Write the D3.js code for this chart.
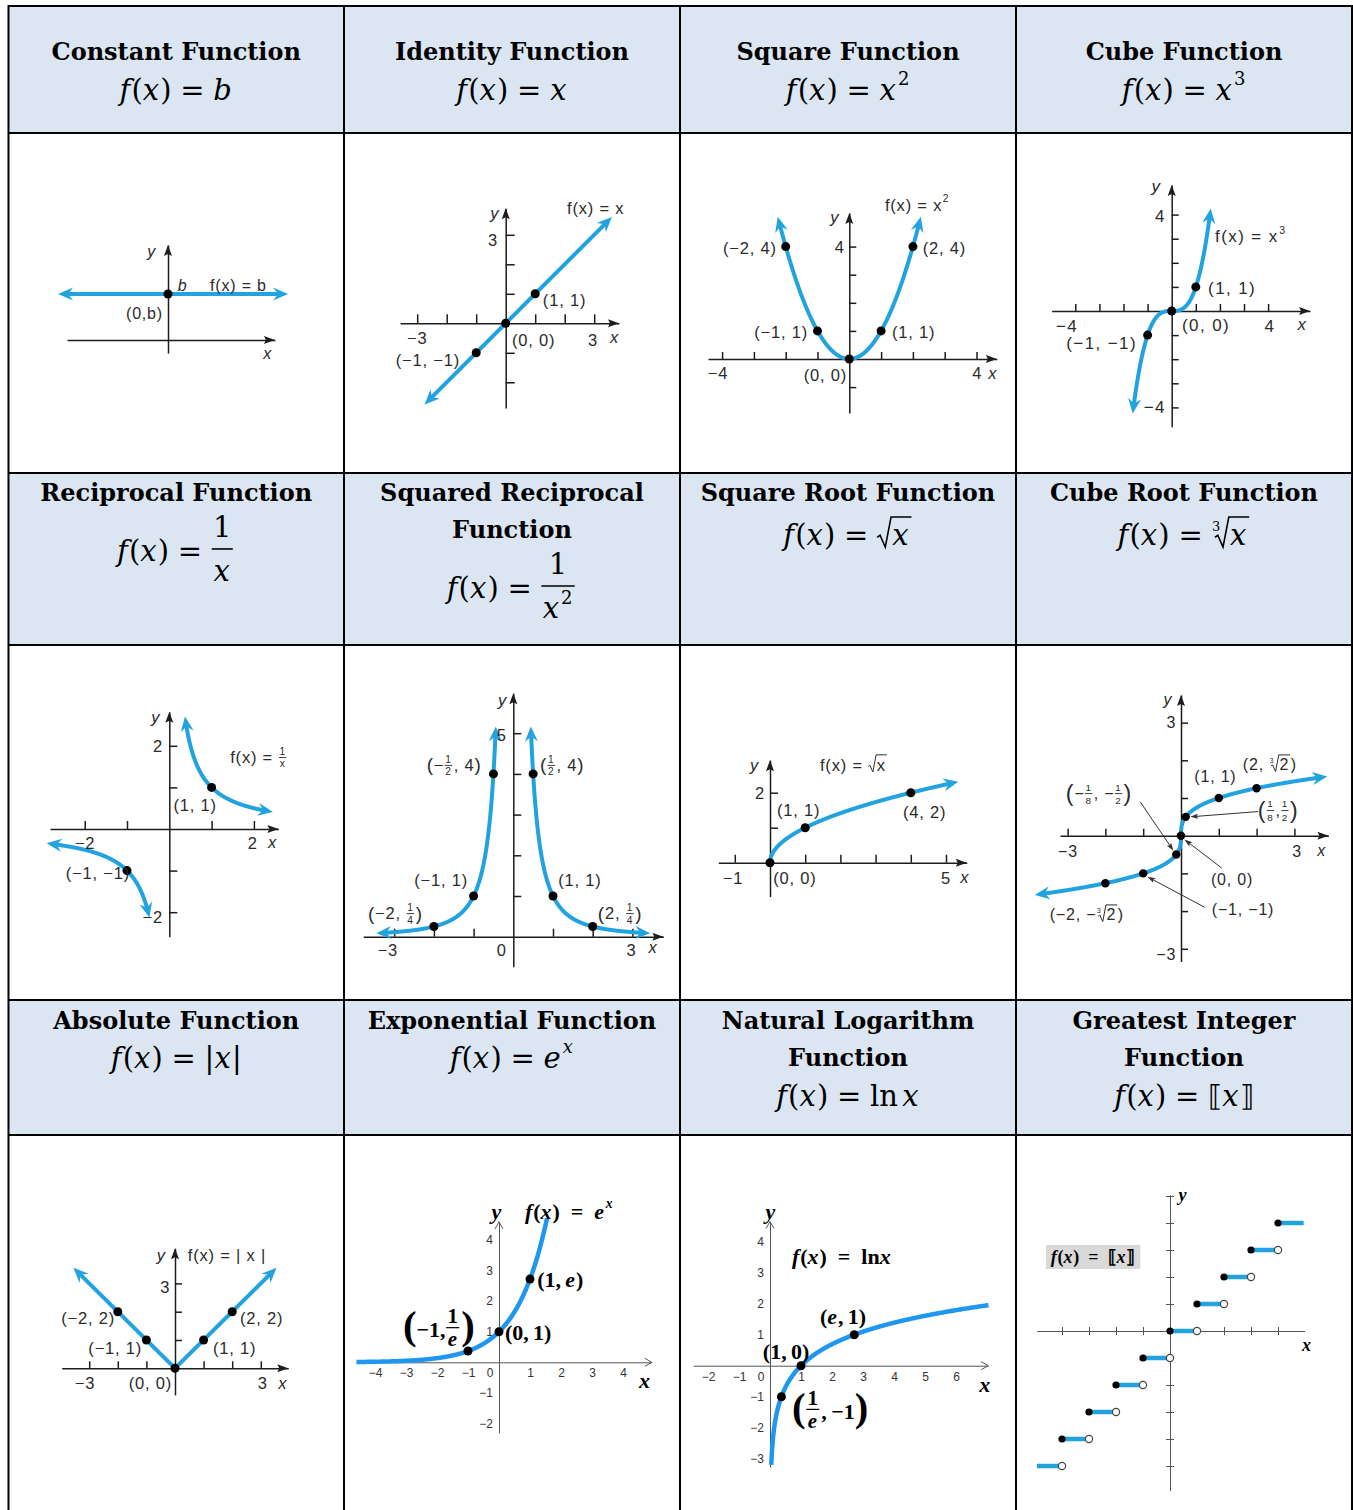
<!DOCTYPE html>
<html>
<head>
<meta charset="utf-8">
<title>Parent Functions</title>
<script src="https://cdn.jsdelivr.net/npm/d3@7"></script>
<style>
  html, body { margin: 0; padding: 0; background: #fff; }
  svg { display: block; }
</style>
</head>
<body>
<svg id="chart" width="1353" height="1510"></svg>
<script>
// ---------- token helpers for math-style text ----------
const it = s => ({ i: s });
const sup = (...t) => ({ sup: t });
const frac = (n, d) => ({ frac: [n, d] });
const root = (c, idx) => ({ sqrt: c, idx });
const big = s => ({ big: s });
const gap = em => ({ sp: em });

// ---------- table headings ----------
const titles = [
  ["Constant Function"], ["Identity Function"], ["Square Function"], ["Cube Function"],
  ["Reciprocal Function"], ["Squared Reciprocal", "Function"], ["Square Root Function"], ["Cube Root Function"],
  ["Absolute Function"], ["Exponential Function"], ["Natural Logarithm", "Function"], ["Greatest Integer", "Function"]
];
const FX = [it("f"), "(", it("x"), ")", gap(0.3), "=", gap(0.3)];
const formulas = [
  [...FX, it("b")],
  [...FX, it("x")],
  [...FX, it("x"), sup("2")],
  [...FX, it("x"), sup("3")],
  [...FX, frac(["1"], [it("x")])],
  [...FX, frac(["1"], [it("x"), sup("2")])],
  [...FX, root([it("x")])],
  [...FX, root([it("x")], "3")],
  [...FX, "|", it("x"), "|"],
  [...FX, it("e"), sup(it("x"))],
  [...FX, "ln", gap(0.15), it("x")],
  [...FX, "\u27E6", it("x"), "\u27E7"]
];

// ---------- key points of each graph ----------
const constantValue = 2;
const constantPoints = [[0, constantValue]];
const identityPoints = [[-1, -1], [0, 0], [1, 1]];
const squarePoints = [[-2, 4], [-1, 1], [0, 0], [1, 1], [2, 4]];
const cubePoints = [[-1, -1], [0, 0], [1, 1]];
const reciprocalPoints = [[-1, -1], [1, 1]];
const sqReciprocalPoints = [[-2, 0.25], [-1, 1], [-0.5, 4], [0.5, 4], [1, 1], [2, 0.25]];
const sqrtPoints = [[0, 0], [1, 1], [4, 2]];
const cbrtPoints = [[-2, -Math.cbrt(2)], [-1, -1], [-0.125, -0.5], [0, 0], [0.125, 0.5], [1, 1], [2, Math.cbrt(2)]];
const absPoints = [[-2, 2], [-1, 1], [0, 0], [1, 1], [2, 2]];
const expPoints = [[-1, 1 / Math.E], [0, 1], [1, Math.E]];
const lnPoints = [[1 / Math.E, -1], [1, 0], [Math.E, 1]];
const stepLevels = [-5, -4, -3, -2, -1, 0, 1, 2, 3, 4];

// ---------- tick values ----------
const identityXTicks = [-3, -2, -1, 1, 2, 3], identityYTicks = [-2, -1, 1, 2, 3];
const squareXTicks = [-4, -3, -2, -1, 1, 2, 3, 4], squareYTicks = [-1, 1, 2, 3, 4];
const cubeXTicks = [-4, -3, -2, -1, 1, 2, 3, 4], cubeYTicks = [-4, -3, -2, -1, 1, 2, 3, 4];
const reciprocalXTicks = [-2, -1, 1, 2], reciprocalYTicks = [-2, -1, 1, 2];
const sqReciprocalXTicks = [-3, -2, -1, 1, 2, 3], sqReciprocalYTicks = [1, 2, 3, 4, 5];
const sqrtXTicks = [-1, 1, 2, 3, 4, 5], sqrtYTicks = [1, 2];
const cbrtXTicks = [-3, -2, -1, 1, 2, 3], cbrtYTicks = [-3, -2, -1, 1, 2, 3];
const absXTicks = [-3, -2, -1, 1, 2, 3], absYTicks = [1, 2, 3];
const expXTicks = [-4, -3, -2, -1, 1, 2, 3, 4], expYTicks = [-2, -1, 1, 2, 3, 4];
const lnXTicks = [-2, -1, 1, 2, 3, 4, 5, 6], lnYTicks = [-3, -2, -1, 1, 2, 3, 4];
const stepXTicks = [-4, -3, -2, -1, 1, 2, 3, 4], stepYTicks = [-5, -4, -3, -2, -1, 1, 2, 3, 4, 5];

// ---------- annotations (positions in graph units) ----------
const constantLabels = [
  { tk: "y", x: -0.70, y: 3.83, a: "middle", it: true },
  { tk: "b", x: 0.65, y: 2.39, a: "middle", it: true },
  { tk: "f(x) = b", x: 1.83, y: 2.39, a: "start" },
  { tk: "(0,b)", x: -0.22, y: 1.17, a: "end" },
  { tk: "x", x: 4.35, y: -0.57, a: "middle", it: true }
];
const identityLabels = [
  { tk: "y", x: -0.36, y: 3.74, a: "middle", it: true },
  { tk: "3", x: -0.26, y: 2.82, a: "end" },
  { tk: "f(x) = x", x: 2.08, y: 3.91, a: "start" },
  { tk: "(1, 1)", x: 1.26, y: 0.79, a: "start" },
  { tk: "−3", x: -3.0, y: -0.5, a: "middle" },
  { tk: "(0, 0)", x: 0.21, y: -0.57, a: "start" },
  { tk: "3", x: 2.96, y: -0.57, a: "middle" },
  { tk: "x", x: 3.7, y: -0.46, a: "middle", it: true },
  { tk: "(−1, −1)", x: -1.55, y: -1.24, a: "end" }
];
const squareLabels = [
  { tk: "y", x: -0.45, y: 5.05, a: "middle", it: true },
  { tk: "4", x: -0.14, y: 3.99, a: "end" },
  { tk: ["f(x) = x", sup("2")], x: 1.12, y: 5.48, a: "start" },
  { tk: "(−2, 4)", x: -2.28, y: 3.95, a: "end" },
  { tk: "(2, 4)", x: 2.31, y: 3.95, a: "start" },
  { tk: "(−1, 1)", x: -1.3, y: 0.96, a: "end" },
  { tk: "(1, 1)", x: 1.34, y: 0.96, a: "start" },
  { tk: "−4", x: -4.13, y: -0.5, a: "middle" },
  { tk: "(0, 0)", x: -0.07, y: -0.57, a: "end" },
  { tk: "4", x: 4.02, y: -0.5, a: "middle" },
  { tk: "x", x: 4.52, y: -0.5, a: "middle", it: true }
];
const cubeLabels = [
  { tk: "y", x: -0.62, y: 5.16, a: "middle", it: true },
  { tk: "4", x: -0.24, y: 3.91, a: "end" },
  { tk: ["f(x) = x", sup("3")], x: 1.8, y: 3.08, a: "start" },
  { tk: "(1, 1)", x: 1.51, y: 0.95, a: "start" },
  { tk: "−4", x: -4.34, y: -0.66, a: "middle" },
  { tk: "(0, 0)", x: 0.43, y: -0.62, a: "start" },
  { tk: "4", x: 4.08, y: -0.66, a: "middle" },
  { tk: "x", x: 5.44, y: -0.58, a: "middle", it: true },
  { tk: "(−1, −1)", x: -1.44, y: -1.33, a: "end" },
  { tk: "−4", x: -0.24, y: -4.02, a: "end" }
];
const reciprocalLabels = [
  { tk: "y", x: -0.31, y: 2.69, a: "middle", it: true },
  { tk: "2", x: -0.15, y: 2.0, a: "end" },
  { tk: ["f(x) = ", frac(["1"], ["x"])], x: 1.44, y: 1.73, a: "start" },
  { tk: "(1, 1)", x: 0.61, y: 0.58, a: "middle" },
  { tk: "−2", x: -1.99, y: -0.34, a: "middle" },
  { tk: "2", x: 1.97, y: -0.34, a: "middle" },
  { tk: "x", x: 2.45, y: -0.31, a: "middle", it: true },
  { tk: "(−1, −1)", x: -0.93, y: -1.06, a: "end" },
  { tk: "−2", x: -0.15, y: -2.12, a: "end" }
];
const sqReciprocalLabels = [
  { tk: "y", x: -0.26, y: 5.81, a: "middle", it: true },
  { tk: "5", x: -0.29, y: 4.96, a: "middle" },
  { tk: [big("("), "−", frac(["1"], ["2"]), ", 4", big(")")], x: -0.8, y: 4.22, a: "end" },
  { tk: [big("("), frac(["1"], ["2"]), ", 4", big(")")], x: 0.67, y: 4.22, a: "start" },
  { tk: "(−1, 1)", x: -1.14, y: 1.39, a: "end" },
  { tk: "(1, 1)", x: 1.13, y: 1.39, a: "start" },
  { tk: [big("("), "−2, ", frac(["1"], ["4"]), big(")")], x: -2.28, y: 0.58, a: "end" },
  { tk: [big("("), "2, ", frac(["1"], ["4"]), big(")")], x: 2.13, y: 0.58, a: "start" },
  { tk: "−3", x: -3.16, y: -0.33, a: "middle" },
  { tk: "0", x: -0.29, y: -0.33, a: "middle" },
  { tk: "3", x: 2.98, y: -0.33, a: "middle" },
  { tk: "x", x: 3.53, y: -0.25, a: "middle", it: true }
];
const sqrtLabels = [
  { tk: "y", x: -0.43, y: 2.79, a: "middle", it: true },
  { tk: ["f(x) = ", root(["x"])], x: 1.42, y: 2.79, a: "start" },
  { tk: "2", x: -0.14, y: 1.99, a: "end" },
  { tk: "(1, 1)", x: 0.2, y: 1.51, a: "start" },
  { tk: "(4, 2)", x: 3.78, y: 1.45, a: "start" },
  { tk: "−1", x: -1.05, y: -0.43, a: "middle" },
  { tk: "(0, 0)", x: 0.09, y: -0.43, a: "start" },
  { tk: "5", x: 5, y: -0.43, a: "middle" },
  { tk: "x", x: 5.54, y: -0.41, a: "middle", it: true }
];
const cbrtLabels = [
  { tk: "y", x: -0.34, y: 3.6, a: "middle", it: true },
  { tk: "3", x: -0.13, y: 2.99, a: "end" },
  { tk: "(1, 1)", x: 0.91, y: 1.56, a: "middle" },
  { tk: ["(2, ", root(["2"], "3"), ")"], x: 2.35, y: 1.88, a: "middle" },
  { tk: [big("("), "−", frac(["1"], ["8"]), ", −", frac(["1"], ["2"]), big(")")], x: -2.17, y: 1.13, a: "middle" },
  { tk: [big("("), frac(["1"], ["8"]), ",", frac(["1"], ["2"]), big(")")], x: 2.57, y: 0.68, a: "middle" },
  { tk: "−3", x: -2.99, y: -0.43, a: "middle" },
  { tk: "3", x: 3.07, y: -0.43, a: "middle" },
  { tk: "x", x: 3.73, y: -0.38, a: "middle", it: true },
  { tk: "(0, 0)", x: 1.35, y: -1.17, a: "middle" },
  { tk: "(−1, −1)", x: 1.64, y: -1.96, a: "middle" },
  { tk: ["(−2, −", root(["2"], "3"), ")"], x: -2.49, y: -2.1, a: "middle" },
  { tk: "−3", x: -0.13, y: -3.16, a: "end" }
];
const cbrtLeaders = [
  [[-1.08, 0.9], [-0.2, -0.4]],
  [[2.04, 0.64], [0.24, 0.5]],
  [[1.08, -0.86], [0.09, -0.1]],
  [[0.63, -1.9], [-0.89, -1.09]]
];
const absLabels = [
  { tk: "y", x: -0.47, y: 4.0, a: "middle", it: true },
  { tk: "f(x) = | x |", x: 0.45, y: 4.0, a: "start" },
  { tk: "3", x: -0.17, y: 2.88, a: "end" },
  { tk: "(−2, 2)", x: -2.1, y: 1.78, a: "end" },
  { tk: "(2, 2)", x: 2.27, y: 1.78, a: "start" },
  { tk: "(−1, 1)", x: -1.15, y: 0.72, a: "end" },
  { tk: "(1, 1)", x: 1.33, y: 0.72, a: "start" },
  { tk: "−3", x: -3.15, y: -0.52, a: "middle" },
  { tk: "(0, 0)", x: -0.1, y: -0.52, a: "end" },
  { tk: "3", x: 3.07, y: -0.52, a: "middle" },
  { tk: "x", x: 3.78, y: -0.52, a: "middle", it: true }
];
const expLabels = [
  { tk: "y", x: -0.07, y: 4.92, a: "middle", it: true },
  { tk: [it("f"), "(", it("x"), ")\u2002=\u2002", it("e"), sup(it("x"))], x: 0.84, y: 4.92, a: "start" },
  { tk: ["(1,\u2009", it("e"), ")"], x: 1.23, y: 2.69, a: "start" },
  { tk: "(0,\u20091)", x: 0.19, y: 0.96, a: "start" },
  { tk: [big("("), "−1,", frac(["1"], [it("e")]), big(")")], x: -3.1, y: 1.06, a: "start" },
  { tk: "x", x: 4.71, y: -0.58, a: "middle", it: true }
];
const lnLabels = [
  { tk: "y", x: 0.03, y: 4.97, a: "middle", it: true },
  { tk: [it("f"), "(", it("x"), ")\u2002=\u2002ln", it("x")], x: 0.71, y: 3.52, a: "start" },
  { tk: ["(", it("e"), ",\u20091)"], x: 1.61, y: 1.58, a: "start" },
  { tk: "(1,\u20090)", x: -0.23, y: 0.45, a: "start" },
  { tk: [big("("), frac(["1"], [it("e")]), ",\u2009−1", big(")")], x: 0.71, y: -1.48, a: "start" },
  { tk: "x", x: 6.94, y: -0.62, a: "middle", it: true }
];
const stepLabels = [
  { tk: "y", x: 0.48, y: 5.04, a: "middle", it: true },
  { tk: "x", x: 5.07, y: -0.52, a: "middle", it: true }
];
const stepFormula = { tk: [it("f"), "(", it("x"), ")\u2002=\u2002\u27E6", it("x"), "\u27E7"], x: -2.85, y: 2.74, a: "middle" };

// ---------- layout and styles ----------
const colEdges = [8.5, 344, 680, 1016, 1352];
const rowEdges = [6, 133, 473, 645, 1000, 1135, 1512];
const titleBase = [60, 501, 1029];
const formulaY = [90, 90, 90, 90, 551, 588, 535, 535, 1058, 1058, 1096, 1096];

const HEADER_FILL = "#dce6f2", BOOK_BLUE = "#22a3e0", GEO_BLUE = "#1f97f0", AXIS = "#1d1d1d";
const headText = { fs: 29, family: "DejaVu Serif", fill: "#000", fracScale: 1, fracUp: 0.83, fracDn: 0.7, barY: -0.07, barPad: 0.15, parenScale: 1, parenDy: 0, supScale: 0.62, supUp: 0.38 };
const bookText = { fs: 16.5, family: "Liberation Sans", fill: "#2b2b2b", spacing: 0.8, fracScale: 0.62, fracUp: 0.36, fracDn: 0.42, barY: 0.03, barPad: 0.12, parenScale: 1.15, parenDy: 0, supScale: 0.62, supUp: 0.38 };
const geoText = { fs: 22, family: "Liberation Serif", weight: "bold", fill: "#000", fracScale: 0.95, fracUp: 0.62, fracDn: 0.42, barY: -0.1, barPad: 0.18, parenScale: 1.85, parenDy: -0.18, supScale: 0.62, supUp: 0.36 };

const svg = d3.select("#chart");

// ---------- text rendering ----------
function putText(parent, x, y, str, fs, o, italic) {
  const t = parent.append("text")
    .attr("x", x).attr("y", y)
    .attr("dominant-baseline", "central")
    .attr("font-family", o.family)
    .attr("font-size", fs)
    .attr("font-weight", o.weight || "normal")
    .attr("font-style", italic ? "italic" : "normal")
    .attr("letter-spacing", o.spacing || 0)
    .attr("fill", o.fill)
    .text(str.replace(/ /g, "\u00A0"));
  return t.node().getComputedTextLength();
}

function renderTokens(parent, tokens, o) {
  const fs = o.fs;
  let x = 0;
  tokens.forEach(tk => {
    if (typeof tk === "string") {
      x += putText(parent, x, 0, tk, fs, o, false);
    } else if (tk.sp !== undefined) {
      x += fs * tk.sp;
    } else if (tk.i !== undefined) {
      x += putText(parent, x, 0, tk.i, fs, o, true) + fs * 0.04;
    } else if (tk.big !== undefined) {
      x += putText(parent, x, fs * o.parenDy, tk.big, fs * o.parenScale, o, false);
    } else if (tk.sup) {
      const g = parent.append("g");
      const w = renderTokens(g, tk.sup, { ...o, fs: fs * o.supScale });
      g.attr("transform", `translate(${x + fs * 0.03},${-fs * o.supUp})`);
      x += w + fs * 0.06;
    } else if (tk.frac) {
      const fo = { ...o, fs: fs * o.fracScale };
      const gn = parent.append("g"), gd = parent.append("g");
      const wn = renderTokens(gn, tk.frac[0], fo);
      const wd = renderTokens(gd, tk.frac[1], fo);
      const w = Math.max(wn, wd) + fs * o.barPad;
      gn.attr("transform", `translate(${x + (w - wn) / 2},${-fs * o.fracUp})`);
      gd.attr("transform", `translate(${x + (w - wd) / 2},${fs * o.fracDn})`);
      parent.append("line")
        .attr("x1", x + fs * 0.03).attr("x2", x + w - fs * 0.03)
        .attr("y1", fs * o.barY).attr("y2", fs * o.barY)
        .attr("stroke", o.fill).attr("stroke-width", Math.max(0.9, fs * 0.055));
      x += w + fs * 0.06;
    } else if (tk.sqrt) {
      let x0 = x;
      if (tk.idx) {
        putText(parent, x0 + fs * 0.02, -fs * 0.3, tk.idx, fs * 0.45, o, false);
        x0 += fs * 0.12;
      }
      const gc = parent.append("g");
      const wc = renderTokens(gc, tk.sqrt, o);
      const cx = x0 + fs * 0.52;
      gc.attr("transform", `translate(${cx},0)`);
      const top = -fs * 0.62, bot = fs * 0.42;
      parent.append("path")
        .attr("d", `M${x0},${fs * 0.08}L${x0 + fs * 0.1},${fs * 0.01}L${x0 + fs * 0.28},${bot}L${x0 + fs * 0.48},${top}H${cx + wc + fs * 0.06}`)
        .attr("fill", "none").attr("stroke", o.fill)
        .attr("stroke-width", Math.max(1, fs * 0.055));
      x = cx + wc + fs * 0.1;
    }
  });
  return x;
}

function placeLabel(g, px, py, l, o) {
  const lg = g.append("g");
  let toks = typeof l.tk === "string" ? [l.tk] : l.tk;
  if (l.it) toks = toks.map(t => typeof t === "string" ? it(t) : t);
  const w = renderTokens(lg, toks, o);
  const off = l.a === "end" ? w : l.a === "middle" ? w / 2 : 0;
  lg.attr("transform", `translate(${px - off},${py})`);
  return { lg, w };
}

// ---------- marks ----------
function arrowHead(g, tip, ang, len, half, notch, color) {
  const c = Math.cos(ang), s = Math.sin(ang);
  const P = (u, v) => [tip[0] - u * c - v * s, tip[1] - u * s + v * c];
  const pts = [P(0, 0), P(len, half), P(len - notch, 0), P(len, -half)];
  g.append("path").attr("d", "M" + pts.map(p => p.join(",")).join("L") + "Z").attr("fill", color);
}

function drawCurve(g, sx, sy, cv, color, width, head) {
  const n = 900;
  const pts = d3.range(n + 1).map(i => {
    const [x, y] = cv.f(cv.t[0] + (cv.t[1] - cv.t[0]) * i / n);
    return [sx(x), sy(y)];
  });
  const dist = (a, b) => Math.hypot(a[0] - b[0], a[1] - b[1]);
  let from = 0, to = pts.length - 1;
  const heads = [];
  [[0, 1], [pts.length - 1, -1]].forEach(([k, step], side) => {
    if (!cv.arrows || !cv.arrows[side]) return;
    const tip = pts[k];
    let j = k;
    while (j + step >= 0 && j + step < pts.length && dist(pts[j], tip) < 9) j += step;
    heads.push([tip, Math.atan2(tip[1] - pts[j][1], tip[0] - pts[j][0])]);
    let m = k;
    while (dist(pts[m], tip) < head.len * 0.55) m += step;
    if (side === 0) from = m; else to = m;
  });
  g.append("path").attr("d", d3.line()(pts.slice(from, to + 1)))
    .attr("fill", "none").attr("stroke", color).attr("stroke-width", width);
  heads.forEach(([tip, ang]) => arrowHead(g, tip, ang, head.len, head.half, head.notch, color));
}

function scalesFor(p) {
  const sx = d3.scaleLinear().domain([0, 1]).range([p.origin[0], p.origin[0] + p.unit[0]]);
  const sy = d3.scaleLinear().domain([0, 1]).range([p.origin[1], p.origin[1] - p.unit[1]]);
  return { sx, sy };
}

// ---------- textbook-style graphs ----------
function drawBookPanel(p) {
  const g = svg.append("g");
  const { sx, sy } = scalesFor(p);
  const ax = d3.scaleLinear().domain(p.xExt).range(p.xExt.map(sx));
  const ay = d3.scaleLinear().domain(p.yExt).range(p.yExt.map(sy));
  g.append("g").attr("transform", `translate(0,${sy(0)})`)
    .call(d3.axisTop(ax).tickValues(p.xTicks).tickSize(p.tick).tickSizeOuter(0).tickFormat(""));
  g.append("g").attr("transform", `translate(${sx(0)},0)`)
    .call(d3.axisRight(ay).tickValues(p.yTicks).tickSize(p.tick).tickSizeOuter(0).tickFormat(""));
  g.selectAll(".domain, .tick line").attr("stroke", AXIS).attr("stroke-width", 1.5);
  arrowHead(g, [sx(p.xExt[1]), sy(0)], 0, 11, 4, 2, AXIS);
  arrowHead(g, [sx(0), sy(p.yExt[1])], -Math.PI / 2, 11, 4, 2, AXIS);
  p.curves.forEach(cv => drawCurve(g, sx, sy, cv, BOOK_BLUE, 4, { len: 15, half: 6.5, notch: 5 }));
  g.selectAll("circle.pt").data(p.pts).join("circle").attr("class", "pt")
    .attr("cx", d => sx(d[0])).attr("cy", d => sy(d[1])).attr("r", p.r || 4.5).attr("fill", "#000");
  const o = { ...bookText, ...(p.text || {}) };
  p.labels.forEach(l => placeLabel(g, sx(l.x), sy(l.y), l, o));
  return { g, sx, sy };
}

const bookPanels = [
  { origin: [168, 340], unit: [23, 23], xExt: [-4.39, 4.65], yExt: [-0.57, 4.13], xTicks: [], yTicks: [], tick: 0,
    curves: [{ f: t => [t, constantValue], t: [-4.78, 5.22], arrows: [1, 1] }], pts: constantPoints, labels: constantLabels, text: { fs: 16 } },
  { origin: [505.7, 323.3], unit: [29.5, 29.5], xExt: [-3.58, 3.84], yExt: [-2.87, 3.9], xTicks: identityXTicks, yTicks: identityYTicks, tick: 9,
    curves: [{ f: t => [t, t], t: [-2.75, 3.6], arrows: [1, 1] }], pts: identityPoints, labels: identityLabels },
  { origin: [849.3, 359], unit: [31.8, 28.1], xExt: [-4.44, 4.64], yExt: [-1.92, 5.2], xTicks: squareXTicks, yTicks: squareYTicks, tick: 7,
    curves: [{ f: t => [t, t * t], t: [-2.25, 2.25], arrows: [1, 1] }], pts: squarePoints, labels: squareLabels },
  { origin: [1171.7, 311], unit: [24.1, 24.1], xExt: [-4.98, 5.74], yExt: [-4.8, 5.23], xTicks: cubeXTicks, yTicks: cubeYTicks, tick: 7,
    curves: [{ f: t => [t, t * t * t], t: [-1.62, 1.62], arrows: [1, 1] }], pts: cubePoints, labels: cubeLabels, text: { fs: 17, spacing: 1.4 } },
  { origin: [169.3, 829], unit: [42.3, 41.6], xExt: [-2.82, 2.58], yExt: [-2.59, 2.82], xTicks: reciprocalXTicks, yTicks: reciprocalYTicks, tick: 8,
    curves: [{ f: t => [t, 1 / t], t: [-2.9, -0.47], arrows: [1, 1] }, { f: t => [t, 1 / t], t: [0.37, 2.45], arrows: [1, 1] }],
    pts: reciprocalPoints, labels: reciprocalLabels },
  { origin: [513.3, 936.7], unit: [39.7, 40.7], xExt: [-3.78, 3.78], yExt: [-0.74, 5.98], xTicks: sqReciprocalXTicks, yTicks: sqReciprocalYTicks, tick: 8,
    curves: [{ f: t => [t, 1 / (t * t)], t: [-3.45, -0.44], arrows: [1, 1] }, { f: t => [t, 1 / (t * t)], t: [0.44, 3.45], arrows: [1, 1] }],
    pts: sqReciprocalPoints, labels: sqReciprocalLabels },
  { origin: [770, 862.7], unit: [35.2, 35], xExt: [-1.47, 5.59], yExt: [-0.97, 2.93], xTicks: sqrtXTicks, yTicks: sqrtYTicks, tick: 8,
    curves: [{ f: t => [t * t, t], t: [0, 2.313], arrows: [0, 1] }], pts: sqrtPoints, labels: sqrtLabels },
  { origin: [1181, 835.7], unit: [37.8, 37.7], xExt: [-3.2, 3.9], yExt: [-3.34, 3.73], xTicks: cbrtXTicks, yTicks: cbrtYTicks, tick: 7,
    curves: [{ f: t => [t * t * t, t], t: [-1.57, 1.57], arrows: [1, 1] }], pts: cbrtPoints, labels: cbrtLabels, r: 4.2,
    text: { fs: 16, parenScale: 1.45, fracUp: 0.38, fracDn: 0.44 } },
  { origin: [175, 1368.3], unit: [28.6, 28.3], xExt: [-3.96, 3.96], yExt: [-0.94, 4.24], xTicks: absXTicks, yTicks: absYTicks, tick: 7,
    curves: [{ f: t => [t, Math.abs(t)], t: [-3.55, 3.55], arrows: [1, 1] }], pts: absPoints, labels: absLabels }
];
const drawn = bookPanels.map(drawBookPanel);

// leader arrows of the cube root graph
{
  const { g, sx, sy } = drawn[7];
  cbrtLeaders.forEach(([a, b]) => {
    const p0 = [sx(a[0]), sy(a[1])], p1 = [sx(b[0]), sy(b[1])];
    const ang = Math.atan2(p1[1] - p0[1], p1[0] - p0[0]);
    g.append("line").attr("x1", p0[0]).attr("y1", p0[1])
      .attr("x2", p1[0] - 5 * Math.cos(ang)).attr("y2", p1[1] - 5 * Math.sin(ang))
      .attr("stroke", "#333").attr("stroke-width", 1);
    arrowHead(g, p1, ang, 8, 2.6, 1.5, "#333");
  });
}

// ---------- GeoGebra-style graphs ----------
const intFormat = d3.format("d");
function drawGeoPanel(p) {
  const g = svg.append("g");
  const { sx, sy } = scalesFor(p);
  const ax = d3.scaleLinear().domain(p.xExt).range(p.xExt.map(sx));
  const ay = d3.scaleLinear().domain(p.yExt).range(p.yExt.map(sy));
  const gx = g.append("g").attr("transform", `translate(0,${sy(0)})`)
    .call(d3.axisBottom(ax).tickValues(p.xTicks).tickFormat(intFormat).tickSize(0).tickPadding(6.5).tickSizeOuter(0));
  const gy = g.append("g").attr("transform", `translate(${sx(0)},0)`)
    .call(d3.axisLeft(ay).tickValues(p.yTicks).tickFormat(intFormat).tickSize(0).tickPadding(6).tickSizeOuter(0));
  [gx, gy].forEach(a => {
    a.select(".domain").attr("stroke", "#555").attr("stroke-width", 1);
    a.selectAll("text").attr("font-family", "Liberation Sans").attr("font-size", 12).attr("fill", "#333");
  });
  g.append("text").attr("x", sx(0) - 9).attr("y", sy(0) + 11)
    .attr("dominant-baseline", "central").attr("text-anchor", "middle")
    .attr("font-family", "Liberation Sans").attr("font-size", 12).attr("fill", "#333").text("0");
  const xe = sx(p.xExt[1]), ye = sy(p.yExt[1]);
  g.append("path").attr("d", `M${xe - 7},${sy(0) - 4}L${xe},${sy(0)}L${xe - 7},${sy(0) + 4}`)
    .attr("fill", "none").attr("stroke", "#555").attr("stroke-width", 1);
  g.append("path").attr("d", `M${sx(0) - 4},${ye + 7}L${sx(0)},${ye}L${sx(0) + 4},${ye + 7}`)
    .attr("fill", "none").attr("stroke", "#555").attr("stroke-width", 1);
  p.curves.forEach(cv => drawCurve(g, sx, sy, cv, GEO_BLUE, 4.5, null));
  g.selectAll("circle.pt").data(p.pts).join("circle").attr("class", "pt")
    .attr("cx", d => sx(d[0])).attr("cy", d => sy(d[1])).attr("r", 4.5).attr("fill", "#000");
  p.labels.forEach(l => placeLabel(g, sx(l.x), sy(l.y), l, geoText));
}

drawGeoPanel({ origin: [499, 1362.3], unit: [31, 30.6], xExt: [-4.59, 4.93], yExt: [-2.31, 4.59],
  xTicks: expXTicks, yTicks: expYTicks, curves: [{ f: t => [t, Math.exp(t)], t: [-4.6, 1.55] }], pts: expPoints, labels: expLabels });
drawGeoPanel({ origin: [770, 1365.7], unit: [31, 31], xExt: [-2.48, 7.04], yExt: [-3.26, 4.65],
  xTicks: lnXTicks, yTicks: lnYTicks, curves: [{ f: t => [Math.exp(t), t], t: [-3.2, 1.953] }], pts: lnPoints, labels: lnLabels });

// ---------- greatest integer (step) graph ----------
{
  const p = { origin: [1170, 1331], unit: [27, 27], xExt: [-4.93, 4.98], yExt: [-5.9, 5.04], stepEnd: 4.95 };
  const g = svg.append("g");
  const { sx, sy } = scalesFor(p);
  const ax = d3.scaleLinear().domain(p.xExt).range(p.xExt.map(sx));
  const ay = d3.scaleLinear().domain(p.yExt).range(p.yExt.map(sy));
  const xa = g.append("g").attr("transform", `translate(0,${sy(0)})`);
  xa.append("g").call(d3.axisBottom(ax).tickValues(stepXTicks).tickSize(4).tickSizeOuter(0).tickFormat(""));
  xa.append("g").call(d3.axisTop(ax).tickValues(stepXTicks).tickSize(4).tickSizeOuter(0).tickFormat(""));
  const ya = g.append("g").attr("transform", `translate(${sx(0)},0)`);
  ya.append("g").call(d3.axisLeft(ay).tickValues(stepYTicks).tickSize(4).tickSizeOuter(0).tickFormat(""));
  ya.append("g").call(d3.axisRight(ay).tickValues(stepYTicks).tickSize(4).tickSizeOuter(0).tickFormat(""));
  g.selectAll(".domain, .tick line").attr("stroke", "#555").attr("stroke-width", 1);

  stepLevels.forEach(n => {
    const x0 = Math.max(n, p.xExt[0]), x1 = Math.min(n + 1, p.stepEnd);
    g.append("line").attr("x1", sx(x0)).attr("x2", sx(x1)).attr("y1", sy(n)).attr("y2", sy(n))
      .attr("stroke", BOOK_BLUE).attr("stroke-width", 4.5);
    if (n >= p.xExt[0]) g.append("circle").attr("cx", sx(n)).attr("cy", sy(n)).attr("r", 3.6).attr("fill", "#000");
    if (n + 1 <= p.stepEnd) g.append("circle").attr("cx", sx(n + 1)).attr("cy", sy(n)).attr("r", 3.6)
      .attr("fill", "#fff").attr("stroke", "#444").attr("stroke-width", 1.2);
  });
  const so = { ...geoText, fs: 18 };
  stepLabels.forEach(l => placeLabel(g, sx(l.x), sy(l.y), l, so));
  const { lg, w } = placeLabel(g, sx(stepFormula.x), sy(stepFormula.y), stepFormula, so);
  lg.insert("rect", ":first-child").attr("x", -5).attr("y", -12).attr("width", w + 10).attr("height", 24).attr("fill", "#d9d9d9");
}

// ---------- table headings ----------
[0, 2, 4].forEach(r => svg.append("rect")
  .attr("x", colEdges[0]).attr("y", rowEdges[r])
  .attr("width", colEdges[4] - colEdges[0]).attr("height", rowEdges[r + 1] - rowEdges[r])
  .attr("fill", HEADER_FILL).lower());

titles.forEach((lines, k) => {
  const c = k % 4, hr = Math.floor(k / 4);
  const cx = (colEdges[c] + colEdges[c + 1]) / 2;
  lines.forEach((s, j) => svg.append("text")
    .attr("x", cx).attr("y", titleBase[hr] + 37 * j)
    .attr("text-anchor", "middle")
    .attr("font-family", "DejaVu Serif").attr("font-weight", "bold").attr("font-size", 24)
    .attr("fill", "#000").text(s));
  const fg = svg.append("g");
  const w = renderTokens(fg, formulas[k], headText);
  fg.attr("transform", `translate(${cx - w / 2},${formulaY[k]})`);
});

// ---------- grid lines ----------
colEdges.forEach(x => svg.append("line").attr("x1", x).attr("x2", x).attr("y1", rowEdges[0] - 1).attr("y2", 1510)
  .attr("stroke", "#000").attr("stroke-width", 2));
rowEdges.slice(0, 6).forEach(y => svg.append("line").attr("x1", colEdges[0]).attr("x2", colEdges[4]).attr("y1", y).attr("y2", y)
  .attr("stroke", "#000").attr("stroke-width", 2));
</script>
</body>
</html>
